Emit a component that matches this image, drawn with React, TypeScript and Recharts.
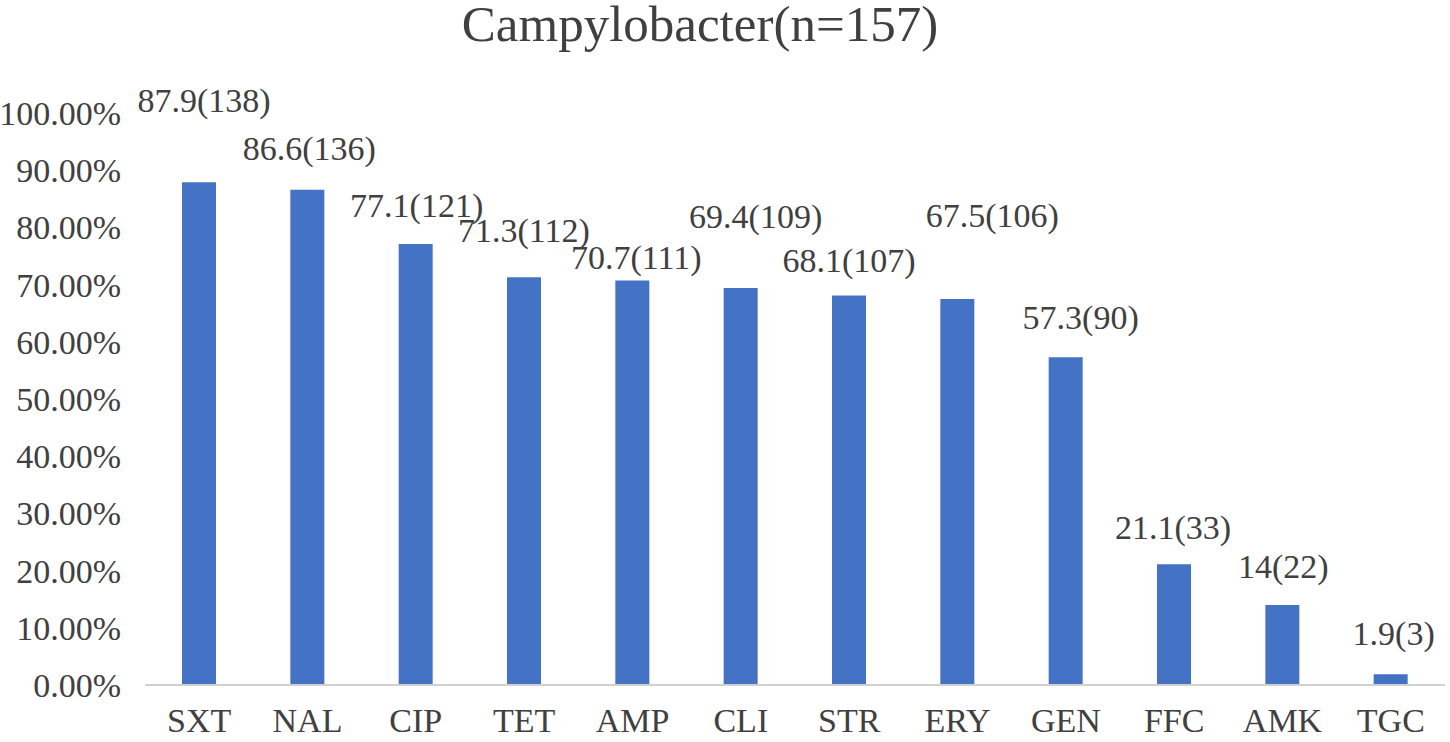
import { BarChart, Bar, XAxis, YAxis, LabelList } from 'recharts';

const drugs = ['SXT', 'NAL', 'CIP', 'TET', 'AMP', 'CLI', 'STR', 'ERY', 'GEN', 'FFC', 'AMK', 'TGC'];
const rates = [87.9, 86.6, 77.1, 71.3, 70.7, 69.4, 68.1, 67.5, 57.3, 21.1, 14, 1.9];
const counts = [138, 136, 121, 112, 111, 109, 107, 106, 90, 33, 22, 3];
const yTicks = [0, 10, 20, 30, 40, 50, 60, 70, 80, 90, 100];

// hand-placed label nudges, as in the original figure
const labelLift = [82, 42, 39, 47, 24, 72, 35, 84, 40, 37, 39, 41];
const labelShift = [5, 2, 1, 0, 4, 15, 0, 35, 15, -1, 1, 3];

const font = "'Liberation Serif', 'Times New Roman', Tinos, 'DejaVu Serif', serif";
const textColor = '#404040';

const data = drugs.map((drug, i) => ({ drug, rate: rates[i], count: counts[i] }));

const renderXTick = (props: any) => {
  const { x, y, payload } = props;
  return (
    <text x={x} y={y + 39} textAnchor="middle" fill={textColor} fontSize={34} style={{ fontFamily: font }}>
      {payload.value}
    </text>
  );
};

const renderYTick = (props: any) => {
  const { x, y, payload } = props;
  return (
    <text x={x - 16} y={y + 12} textAnchor="end" fill={textColor} fontSize={34} style={{ fontFamily: font }}>
      {`${Number(payload.value).toFixed(2)}%`}
    </text>
  );
};

const renderLabel = (props: any) => {
  const { x, y, width, index } = props;
  return (
    <text
      x={x + width / 2 + labelShift[index]}
      y={y - labelLift[index] + 12}
      textAnchor="middle"
      fill={textColor}
      fontSize={34}
      style={{ fontFamily: font }}
    >
      {`${rates[index]}(${counts[index]})`}
    </text>
  );
};

export default function App() {
  return (
    <div style={{ position: 'absolute', left: 0, top: 0, width: 1450, height: 742, background: '#fff', fontFamily: font }}>
      <div
        style={{
          position: 'absolute',
          left: 0,
          top: 0,
          width: 1400,
          textAlign: 'center',
          fontSize: 51,
          lineHeight: '48px',
          color: textColor,
        }}
      >
        Campylobacter(n=157)
      </div>
      <BarChart width={1450} height={742} data={data} margin={{ top: 113, right: 5, left: 0, bottom: 0 }}>
        <XAxis
          dataKey="drug"
          height={57}
          tickLine={false}
          axisLine={{ stroke: '#d0d0d0', strokeWidth: 2 }}
          tick={renderXTick}
          interval={0}
        />
        <YAxis
          width={145}
          domain={[0, 100]}
          ticks={yTicks}
          axisLine={false}
          tickLine={false}
          tick={renderYTick}
          interval={0}
        />
        <Bar dataKey="rate" fill="#4472C4" barSize={34} isAnimationActive={false}>
          <LabelList dataKey="rate" content={renderLabel} />
        </Bar>
      </BarChart>
    </div>
  );
}
